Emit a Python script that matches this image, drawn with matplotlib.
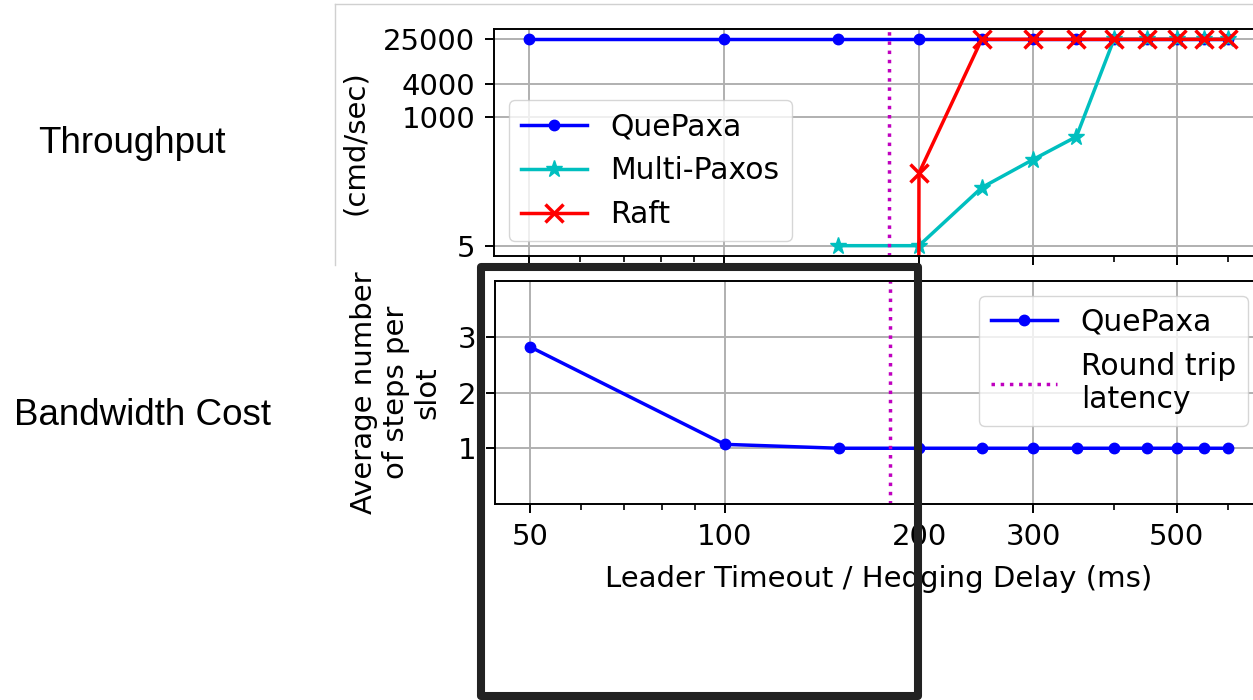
import numpy as np
import matplotlib.pyplot as plt
from matplotlib.lines import Line2D
from matplotlib.patches import Rectangle
from matplotlib.ticker import FixedLocator, NullFormatter, NullLocator, ScalarFormatter

# leader timeout / hedging delay (ms)
timeouts = [50, 100, 150, 200, 250, 300, 350, 400, 450, 500, 550, 600]

# throughput (cmd/sec)
quepaxa_tput = [25000, 25000, 25000, 25000, 25000, 25000, 25000, 25000, 25000, 25000, 25000, 25000]
multipaxos_tput = [np.nan, np.nan, 5, 5, 55, 175, 450, 25000, 25000, 25000, 25000, 25000]
raft_tput = [0, 0, 0, 100, 25000, 25000, 25000, 25000, 25000, 25000, 25000, 25000]

# average number of steps per slot
quepaxa_steps = [2.82, 1.07, 1.0, 1.0, 1.0, 1.0, 1.0, 1.0, 1.0, 1.0, 1.0, 1.0]

round_trip = 180
x_ticks = [50, 100, 200, 300, 500]
tput_ticks = [5, 1000, 4000, 25000]
steps_ticks = [1, 2, 3]

W, H = 1253, 700
FS = 21        # ticks / axis labels
FS_LEG = 21.5  # legend text


def box(left, top, right, bottom):
    # pixel box -> figure fraction
    return [left / W, 1 - bottom / H, (right - left) / W, (bottom - top) / H]


def style_axes(ax):
    ax.set_xscale('log')
    ax.xaxis.set_major_locator(FixedLocator(x_ticks))
    ax.xaxis.set_major_formatter(ScalarFormatter())
    ax.xaxis.set_minor_formatter(NullFormatter())
    ax.grid(True, which='major', color='#b0b0b0', lw=1.4)
    ax.tick_params(which='major', length=6.5, width=1.4, labelsize=FS, pad=7)
    ax.tick_params(which='minor', length=4.3, width=1.2)
    for s in ax.spines.values():
        s.set_linewidth(1.4)


plt.rcParams['font.family'] = 'DejaVu Sans'
fig = plt.figure(figsize=(W / 100, H / 100), dpi=100)

# ---- throughput panel ----
ax1 = fig.add_axes(box(494, 29, 1263, 256))
style_axes(ax1)
ax1.plot(timeouts, quepaxa_tput, 'b-', marker='o', ms=7.5, lw=2.5, label='QuePaxa')
ax1.plot(timeouts, multipaxos_tput, 'c-', marker='*', ms=12.5, lw=2.5, label='Multi-Paxos')
ax1.plot(timeouts, raft_tput, 'r-', marker='x', ms=12.5, mew=2.5, lw=2.5, label='Raft')
ax1.axvline(round_trip, color='m', ls=':', lw=2.5)
ax1.set_yscale('log')
ax1.yaxis.set_major_locator(FixedLocator(tput_ticks))
ax1.yaxis.set_major_formatter(ScalarFormatter())
ax1.yaxis.set_minor_locator(NullLocator())
ax1.tick_params(axis='x', labelbottom=False)
ax1.set_ylabel('(cmd/sec)', fontsize=FS, labelpad=10)
ax1.legend(loc='lower left', fontsize=FS_LEG, handlelength=2.2)

# ---- bandwidth panel ----
ax2 = fig.add_axes(box(495, 281, 1263, 504))
style_axes(ax2)
ax2.plot(timeouts, quepaxa_steps, 'b-', marker='o', ms=7.5, lw=2.5, label='QuePaxa')
ax2.axvline(round_trip, color='m', ls=':', lw=2.5, label='Round trip\nlatency')
ax2.set_xlim(ax1.get_xlim())
ax2.set_ylim(0, 4)
ax2.set_yticks(steps_ticks)
ax2.set_ylabel('Average number\nof steps per\nslot', fontsize=FS, labelpad=12, linespacing=1.15)
ax2.set_xlabel('Leader Timeout / Hedging Delay (ms)', fontsize=FS, labelpad=10)
ax2.legend(loc='upper right', fontsize=FS_LEG, handlelength=2.2)

# slide labels
fig.text(38 / W, 1 - 153 / H, 'Throughput', fontsize=26.5, family='Liberation Sans', va='baseline')
fig.text(14 / W, 1 - 425 / H, 'Bandwidth Cost', fontsize=26.5, family='Liberation Sans', va='baseline')

# border of the pasted throughput image
fig.add_artist(Line2D([335 / W, 335 / W], [1 - 265 / H, 1 - 4 / H], color='#d0d0d0', lw=1))
fig.add_artist(Line2D([335 / W, 1], [1 - 4 / H, 1 - 4 / H], color='#d0d0d0', lw=1))

# highlight box
fig.add_artist(Rectangle((481 / W, 1 - 696 / H), (918 - 481) / W, (696 - 267) / H,
                         fill=False, ec='#222222', lw=5.8, joinstyle='round', zorder=10))

fig.savefig('out.png', dpi=100)
